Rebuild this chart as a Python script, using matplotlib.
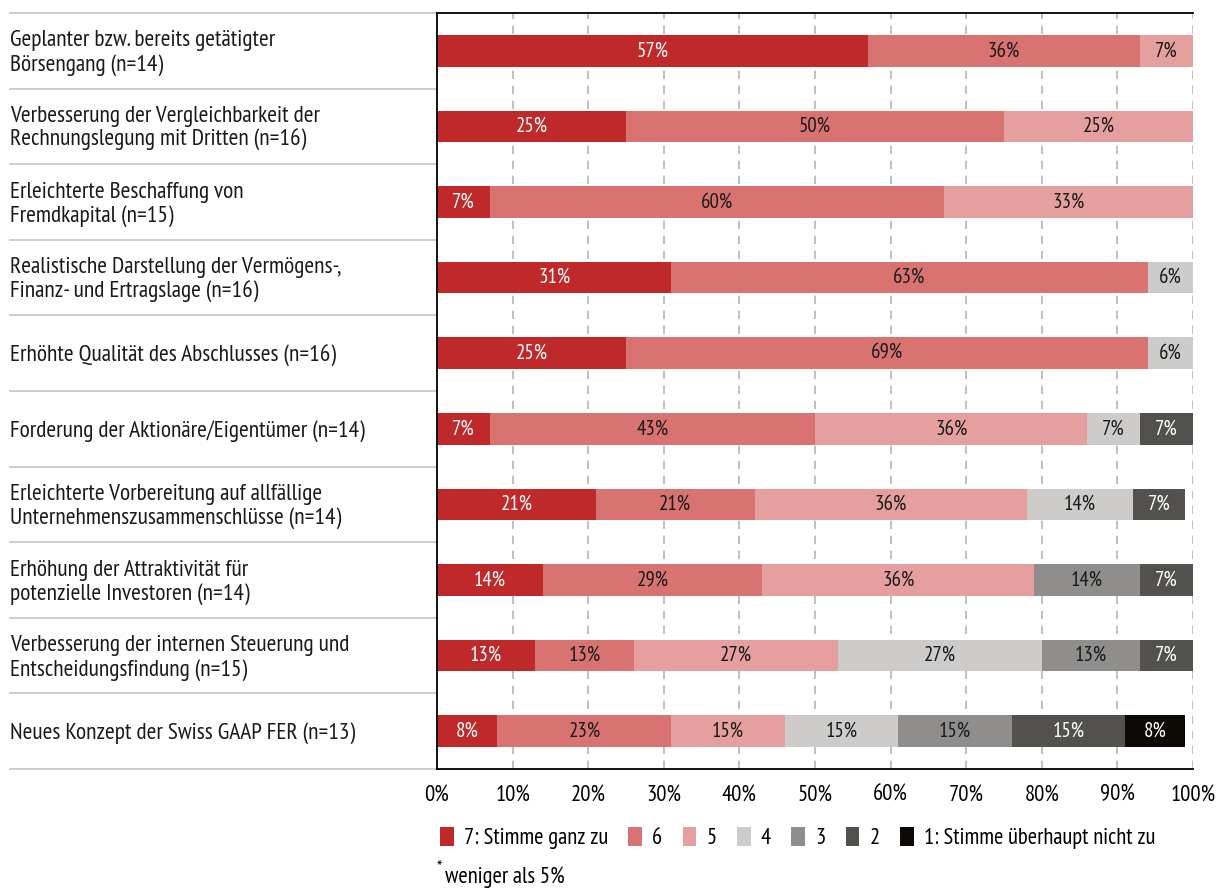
import matplotlib
matplotlib.use("Agg")
import matplotlib.pyplot as plt
from matplotlib.patches import Patch
import numpy as np

plt.rcParams['font.family'] = ['PT Sans Narrow', 'DejaVu Sans']

categories = [
    "Geplanter bzw. bereits getätigter\nBörsengang (n=14)",
    "Verbesserung der Vergleichbarkeit der\nRechnungslegung mit Dritten (n=16)",
    "Erleichterte Beschaffung von\nFremdkapital (n=15)",
    "Realistische Darstellung der Vermögens-,\nFinanz- und Ertragslage (n=16)",
    "Erhöhte Qualität des Abschlusses (n=16)",
    "Forderung der Aktionäre/Eigentümer (n=14)",
    "Erleichterte Vorbereitung auf allfällige\nUnternehmenszusammenschlüsse (n=14)",
    "Erhöhung der Attraktivität für\npotenzielle Investoren (n=14)",
    "Verbesserung der internen Steuerung und\nEntscheidungsfindung (n=15)",
    "Neues Konzept der Swiss GAAP FER (n=13)",
]

levels = ["7: Stimme ganz zu", "6", "5", "4", "3", "2", "1: Stimme überhaupt nicht zu"]

# shares in percent per answer level, one list per level (rows follow categories)
s7 = [57, 25, 7, 31, 25, 7, 21, 14, 13, 8]
s6 = [36, 50, 60, 63, 69, 43, 21, 29, 13, 23]
s5 = [7, 25, 33, 0, 0, 36, 36, 36, 27, 15]
s4 = [0, 0, 0, 6, 6, 7, 14, 0, 27, 15]
s3 = [0, 0, 0, 0, 0, 0, 0, 14, 13, 15]
s2 = [0, 0, 0, 0, 0, 7, 7, 7, 7, 15]
s1 = [0, 0, 0, 0, 0, 0, 0, 0, 0, 8]

colors = ["#c0292a", "#d87371", "#e49f9e", "#cdccca", "#8f8e8c", "#53514d", "#0d0905"]
text_colors = ["white", "#1a1a1a", "#1a1a1a", "#1a1a1a", "#1a1a1a", "white", "white"]

fig = plt.figure(figsize=(12.17, 8.88), dpi=100)
ax = fig.add_axes([437 / 1217, 1 - 769 / 888, (1193 - 437) / 1217, (769 - 13) / 888])

n = len(categories)
y = np.arange(n)
left = np.zeros(n)
for vals, col, tcol in zip([s7, s6, s5, s4, s3, s2, s1], colors, text_colors):
    vals = np.array(vals, dtype=float)
    ax.barh(y, vals, left=left, height=0.42, color=col, zorder=3)
    for yi, (l, v) in enumerate(zip(left, vals)):
        if v > 0:
            ax.text(l + v / 2, yi, f"{v:.0f}%", ha="center", va="center",
                    color=tcol, fontsize=15, zorder=4)
    left += vals

ax.set_xlim(0, 100)
ax.set_ylim(n - 0.5, -0.5)
ax.set_yticks([])
ax.set_xticks(np.arange(0, 101, 10))
ax.set_xticklabels([f"{t}%" for t in range(0, 101, 10)], fontsize=16.3)
ax.tick_params(axis="x", length=0, pad=11)

for xv in range(10, 101, 10):
    ax.axvline(xv, color="#b5b5b5", lw=1.2, ls=(0, (5, 4)), zorder=1)

for side in ["top", "bottom", "left"]:
    ax.spines[side].set_color("black")
    ax.spines[side].set_linewidth(1.3)
    ax.spines[side].set_zorder(5)
ax.spines["right"].set_visible(False)

# row separators and labels on the left
trans = ax.get_yaxis_transform()
x_text = (10 - 437) / (1193 - 437)
for k in range(n + 1):
    ax.plot([x_text, 0], [k - 0.5, k - 0.5], transform=trans, color="#c8c8c8",
            lw=1.3, clip_on=False)
for yi, lab in enumerate(categories):
    ax.text(x_text, yi + 0.03, lab, transform=trans, ha="left", va="center",
            fontsize=16.8, linespacing=1.15, color="#1a1a1a")

handles = [Patch(facecolor=c, edgecolor="none") for c in colors]
fig.legend(handles, levels, loc="center left", bbox_to_anchor=(431 / 1217, 1 - 838 / 888),
           ncol=7, frameon=False, fontsize=16.3, handlelength=0.6, handleheight=0.9,
           handletextpad=0.45, columnspacing=0.9, borderaxespad=0)

fig.text(436 / 1217, 1 - 869 / 888, "*", fontsize=13, ha="left", va="center")
fig.text(445 / 1217, 1 - 877 / 888, "weniger als 5%", fontsize=16.3, ha="left", va="center")

fig.savefig("out.png", dpi=100)
